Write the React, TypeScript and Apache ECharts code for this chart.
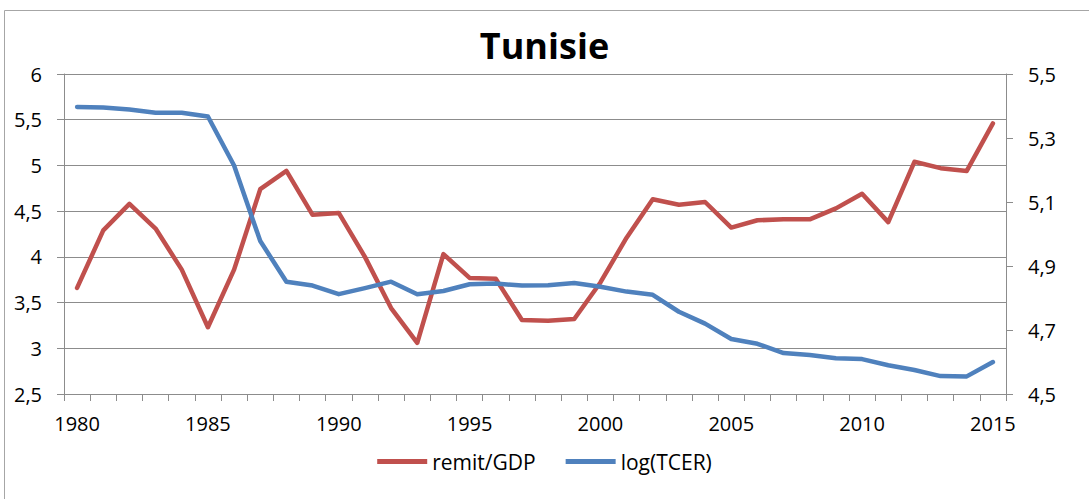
import React, { useEffect, useRef } from "react";
import * as echarts from "echarts";

const years: string[] = [];
for (let y = 1980; y <= 2015; y++) years.push(String(y));

const remitGDP = [
  3.66, 4.29, 4.58, 4.31, 3.86, 3.23, 3.86, 4.74, 4.94, 4.46,
  4.48, 4.0, 3.44, 3.06, 4.03, 3.77, 3.76, 3.31, 3.3, 3.32,
  3.72, 4.21, 4.63, 4.57, 4.6, 4.32, 4.4, 4.41, 4.41, 4.53,
  4.69, 4.38, 5.04, 4.97, 4.94, 5.46,
];

const logTCER = [
  5.397, 5.395, 5.389, 5.379, 5.379, 5.367, 5.214, 4.978, 4.851, 4.839,
  4.812, 4.831, 4.851, 4.812, 4.822, 4.843, 4.845, 4.839, 4.84, 4.847,
  4.835, 4.82, 4.81, 4.757, 4.72, 4.672, 4.657, 4.628, 4.622, 4.612,
  4.609, 4.59, 4.575, 4.556, 4.555, 4.6,
];

const FONT = "Open Sans";
const GRAY = "#8c8c8c";
const RED = "#c0504d";
const BLUE = "#4f81bd";

const comma = (v: number, d: number) => v.toFixed(d).replace(".", ",");

export default function App() {
  const ref = useRef<HTMLDivElement>(null);
  useEffect(() => {
    if (!ref.current) return;
    const chart = echarts.init(ref.current, null, { renderer: "svg" });
    chart.setOption({
      animation: false,
      backgroundColor: "#ffffff",
      textStyle: { fontFamily: FONT },
      title: {
        text: "Tunisie",
        left: "center",
        top: 22,
        textStyle: { fontFamily: FONT, fontSize: 36, fontWeight: "bold", color: "#000" },
      },
      graphic: [
        {
          type: "rect",
          shape: { x: 4.5, y: 10.5, width: 1100, height: 500 },
          style: { fill: "none", stroke: "#a6a6a6", lineWidth: 1 },
          silent: true,
        },
      ],
      legend: {
        bottom: 22,
        left: "center",
        itemWidth: 50,
        itemHeight: 5,
        itemGap: 30,
        icon: "rect",
        textStyle: { fontFamily: FONT, fontSize: 21, color: "#000" },
        data: ["remit/GDP", "log(TCER)"],
      },
      grid: { left: 64, right: 83, top: 74, bottom: 105, containLabel: false },
      xAxis: {
        type: "category",
        data: years,
        boundaryGap: true,
        axisLine: { lineStyle: { color: GRAY, width: 1 } },
        axisTick: { show: true, interval: 0, length: 7, lineStyle: { color: GRAY } },
        axisLabel: { interval: 4, margin: 19, fontSize: 20, color: "#000", fontFamily: FONT },
        splitLine: { show: false },
      },
      yAxis: [
        {
          type: "value",
          min: 2.5,
          max: 6,
          interval: 0.5,
          axisLine: { show: true, lineStyle: { color: GRAY, width: 1 } },
          axisTick: { show: true, length: 7, lineStyle: { color: GRAY } },
          axisLabel: {
            margin: 22,
            fontSize: 20,
            color: "#000",
            fontFamily: FONT,
            formatter: (v: number) => (Number.isInteger(v) ? String(v) : comma(v, 1)),
          },
          splitLine: { show: true, lineStyle: { color: GRAY, width: 1 } },
        },
        {
          type: "value",
          min: 4.5,
          max: 5.5,
          interval: 0.2,
          position: "right",
          axisLine: { show: true, lineStyle: { color: GRAY, width: 1 } },
          axisTick: { show: true, length: 7, lineStyle: { color: GRAY } },
          axisLabel: {
            margin: 22,
            fontSize: 20,
            color: "#000",
            fontFamily: FONT,
            formatter: (v: number) => comma(v, 1),
          },
          splitLine: { show: false },
        },
      ],
      series: [
        {
          name: "remit/GDP",
          type: "line",
          yAxisIndex: 0,
          data: remitGDP,
          symbol: "none",
          color: RED,
          lineStyle: { color: RED, width: 4.5, cap: "round", join: "round" },
        },
        {
          name: "log(TCER)",
          type: "line",
          yAxisIndex: 1,
          data: logTCER,
          symbol: "none",
          color: BLUE,
          lineStyle: { color: BLUE, width: 4.5, cap: "round", join: "round" },
        },
      ],
    });
    return () => chart.dispose();
  }, []);
  return (
    <div
      ref={ref}
      style={{ position: "fixed", left: 0, top: 0, width: 1089, height: 499 }}
    />
  );
}
